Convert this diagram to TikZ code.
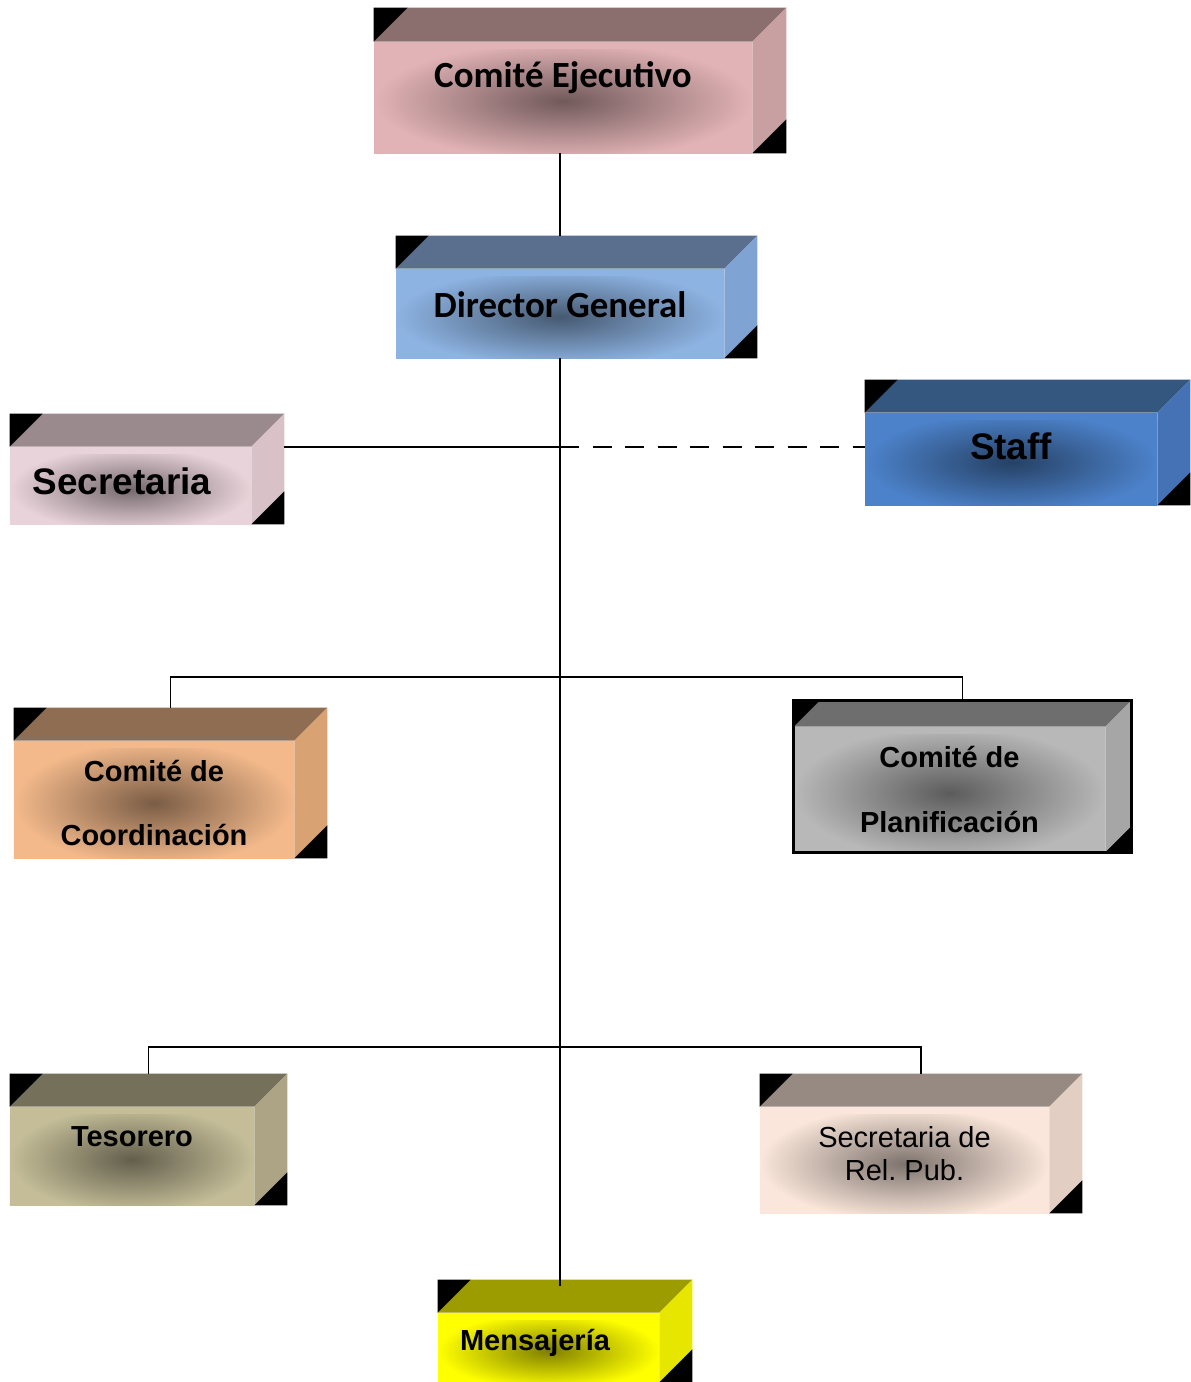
\documentclass[tikz,border=0pt]{standalone}
\usepackage{fontspec}
\setmainfont{Liberation Sans}
\newfontfamily\calibri{Carlito}
\usepackage{tikz}
\usetikzlibrary{positioning,calc}
\frenchspacing
\definecolor{ejecface}{HTML}{E2B3B6}
\definecolor{ejectop}{HTML}{8B6E6E}
\definecolor{ejecside}{HTML}{C9A0A2}
\definecolor{dirface}{HTML}{8DB3E2}
\definecolor{dirtop}{HTML}{5A6F8E}
\definecolor{dirside}{HTML}{7FA3D3}
\definecolor{secrface}{HTML}{E9D3DA}
\definecolor{secrtop}{HTML}{9A8A8D}
\definecolor{secrside}{HTML}{D8C2C8}
\definecolor{staffface}{HTML}{4C82CA}
\definecolor{stafftop}{HTML}{33577F}
\definecolor{staffside}{HTML}{4472B4}
\definecolor{coordface}{HTML}{F3B98B}
\definecolor{coordtop}{HTML}{8E6D52}
\definecolor{coordside}{HTML}{D8A272}
\definecolor{planface}{HTML}{B8B8B8}
\definecolor{plantop}{HTML}{6E6E6E}
\definecolor{planside}{HTML}{A6A6A6}
\definecolor{tesoface}{HTML}{C4BD98}
\definecolor{tesotop}{HTML}{75705A}
\definecolor{tesoside}{HTML}{ACA484}
\definecolor{relpface}{HTML}{FAE6DA}
\definecolor{relptop}{HTML}{968A82}
\definecolor{relpside}{HTML}{E2CEC2}
\definecolor{mensface}{HTML}{FFFF00}
\definecolor{menstop}{HTML}{9C9C00}
\definecolor{mensside}{HTML}{E6E600}
\tikzset{
    face/.style={rectangle, fill=#1, inner sep=0pt, path picture={
        \shade[inner color=#1!50!black, outer color=#1]
            ([yshift=-4pt]path picture bounding box.south west) rectangle ([yshift=-4pt]path picture bounding box.north east);}},
    line/.style={draw, line width=1pt},
    title/.style={font=\calibri\bfseries\fontsize{21}{25}\selectfont},
    big/.style={font=\bfseries\fontsize{21}{25}\selectfont},
    small/.style={font=\bfseries\fontsize{16.5}{19.8}\selectfont, align=center},
    plain/.style={font=\fontsize{16.5}{19}\selectfont, align=center}
}
% top face, side face and dark corners of a box
\newcommand{\cubesides}[4]{%
    \fill[#2] (#1.north west) -- ++(#4,#4) -- ([shift={(#4,#4)}]#1.north east) -- (#1.north east) -- cycle;
    \fill[#3] (#1.north east) -- ++(#4,#4) -- ([shift={(#4,#4)}]#1.south east) -- (#1.south east) -- cycle;
    \fill[black] (#1.north west) -- ++(0,#4) -- ++(#4,0) -- cycle;
    \fill[black] (#1.south east) -- ++(#4,0) -- ++(0,#4) -- cycle;
    \coordinate (#1-top) at ([shift={(#4/2,#4)}]#1.north);
}
\begin{document}
\begin{tikzpicture}
    \useasboundingbox (0,0) rectangle (23.8,-27.64);

    % Direction
    \node [face=dirface, minimum width=6.56cm, minimum height=1.78cm,
        label={[title, yshift=0.17cm]center:Director General}] (dir) at (11.2,-6.27) {};
    \node [face=ejecface, minimum width=7.56cm, minimum height=2.22cm,
        label={[title, yshift=0.39cm]center:Comité Ejecutivo}] (ejec) at ([shift={(0.06,4.32)}]dir) {};
    \cubesides{dir}{dirtop}{dirside}{0.66}
    \cubesides{ejec}{ejectop}{ejecside}{0.68}

    % Support
    \node [face=secrface, minimum width=4.82cm, minimum height=1.54cm,
        label={[big, xshift=-0.17cm, yshift=0.09cm]center:Secretaria}] (secr) at ([shift={(-8.59,-3.44)}]dir) {};
    \node [face=staffface, minimum width=5.84cm, minimum height=1.84cm,
        label={[big, yshift=0.26cm]center:Staff}] (staff) at ([shift={(9.02,-2.91)}]dir) {};
    \cubesides{secr}{secrtop}{secrside}{0.66}
    \cubesides{staff}{stafftop}{staffside}{0.66}

    % Committees
    \node [face=coordface, minimum width=5.6cm, minimum height=2.34cm,
        label={[small, yshift=-0.07cm]center:Comité de\\[16.6pt]Coordinación}] (coord) at ([shift={(-8.12,-9.72)}]dir) {};
    \node [face=planface, minimum width=6.22cm, minimum height=2.5cm,
        label={[small]center:Comité de\\[17.7pt]Planificación}] (plan) at ([shift={(7.79,-9.52)}]dir) {};
    \cubesides{coord}{coordtop}{coordside}{0.66}
    \cubesides{plan}{plantop}{planside}{0.52}
    \draw [line width=1.7pt] (plan.south west) rectangle ([shift={(0.52,0.52)}]plan.north east);

    % Units
    \node [face=tesoface, minimum width=4.88cm, minimum height=1.96cm,
        label={[small, yshift=0.38cm]center:Tesorero}] (teso) at ([shift={(-8.56,-16.85)}]dir) {};
    \node [face=relpface, minimum width=5.78cm, minimum height=2.12cm,
        label={[plain, yshift=0.13cm]center:Secretaria de\\Rel. Pub.}] (relp) at ([shift={(6.89,-16.93)}]dir) {};
    \node [face=mensface, minimum width=4.42cm, minimum height=1.38cm,
        label={[small, xshift=-0.27cm, yshift=0.09cm]center:Mensajería}] (mens) at ([shift={(-0.23,-20.68)}]dir) {};
    \cubesides{teso}{tesotop}{tesoside}{0.66}
    \cubesides{relp}{relptop}{relpside}{0.66}
    \cubesides{mens}{menstop}{mensside}{0.66}

    % Lines of authority
    \path [line] (dir.north |- ejec.south) -- ([yshift=0.66cm]dir.north);
    \path [line] (dir.south) -- ([yshift=-0.12cm]dir.south |- mens-top);
    \path [line] ([xshift=0.66cm]secr.north east) -- (secr.north east -| dir.south) coordinate (staffjoin);
    \path [line, dash pattern=on 11pt off 7.5pt] (staffjoin) -- (staffjoin -| staff.west);
    \path [line] (coord-top) -- ++(0,0.62) -| (plan-top);
    \path [line] (teso-top) -- ++(0,0.54) -| (relp-top);
\end{tikzpicture}
\end{document}
